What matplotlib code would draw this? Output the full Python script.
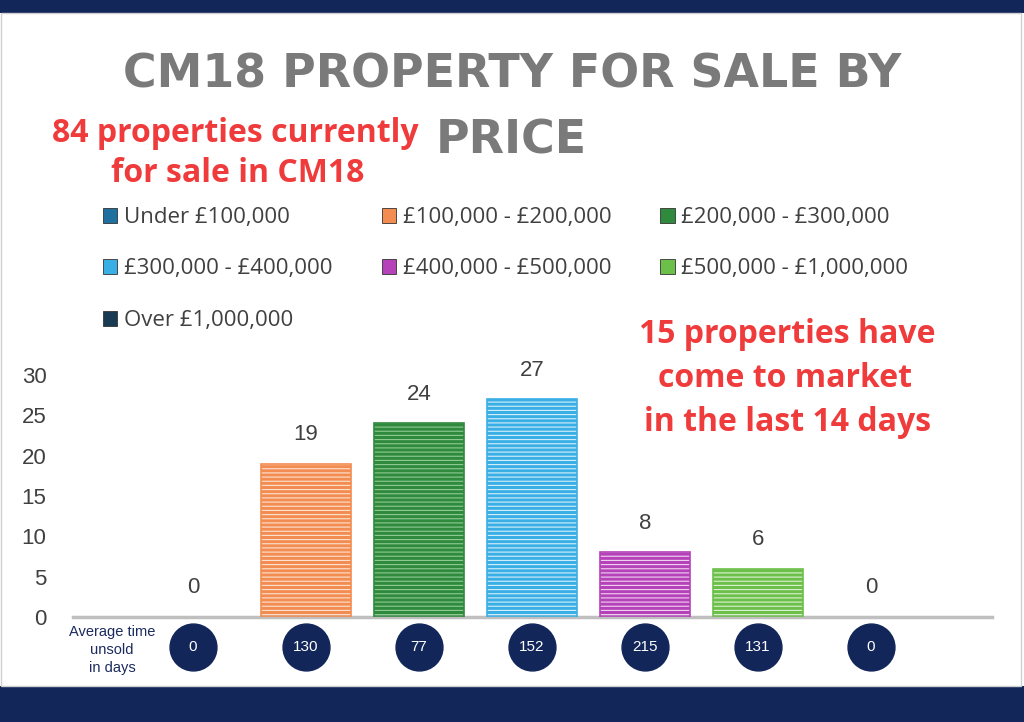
import matplotlib
matplotlib.use("Agg")
import matplotlib.pyplot as plt
from matplotlib import font_manager
from matplotlib.patches import Patch, Rectangle


def pick(*names):
    # first installed family from the list
    for n in names:
        try:
            font_manager.findfont(n, fallback_to_default=False)
            return n
        except ValueError:
            pass
    return "DejaVu Sans"


SANS = pick("Liberation Sans", "DejaVu Sans")
OPEN = pick("Open Sans", "DejaVu Sans")

# data
categories = ["Under £100,000", "£100,000 - £200,000", "£200,000 - £300,000",
              "£300,000 - £400,000", "£400,000 - £500,000", "£500,000 - £1,000,000",
              "Over £1,000,000"]
counts = [0, 19, 24, 27, 8, 6, 0]
days_unsold = [0, 130, 77, 152, 215, 131, 0]
y_ticks = [0, 5, 10, 15, 20, 25, 30]

# styles
colors = ["#1F6F9F", "#F28C50", "#2F8A3E", "#3AAFE5", "#B542B8", "#6CC04A", "#183A52"]
stripes = ["#FFFFFF", "#FDE3D3", "#8FCB93", "#D7EFFB", "#F1D3F2", "#DDF2D2", "#FFFFFF"]
navy = "#13265A"

plt.rcParams["hatch.linewidth"] = 0.8

fig = plt.figure(figsize=(10.24, 7.22), dpi=100)
fig.patch.set_facecolor("white")


def fx(px):
    return px / 1024


def fy(py):
    return 1 - py / 722


# frame bands
fig.patches.append(Rectangle((0, fy(13)), 1, 13 / 722, transform=fig.transFigure,
                             facecolor=navy, edgecolor="none", zorder=0))
fig.patches.append(Rectangle((0, 0), 1, fy(686), transform=fig.transFigure,
                             facecolor=navy, edgecolor="none", zorder=0))
fig.patches.append(Rectangle((fx(1), fy(686)), fx(1020), (686 - 13) / 722,
                             transform=fig.transFigure, facecolor="none",
                             edgecolor="#D0D0D0", linewidth=1, zorder=0))

ax = fig.add_axes([fx(73), fy(617), fx(992 - 73), (617 - 375) / 722])
ax.set_xlim(-1.062, 7.071)
ax.set_ylim(0, 30)

x = list(range(len(categories)))
ax.bar(x, counts, width=0.805, color=colors, edgecolor=stripes,
       linewidth=0, hatch="----", zorder=2)
outline = [c if n > 0 else "none" for c, n in zip(colors, counts)]
ax.bar(x, counts, width=0.805, fill=False, edgecolor=outline, linewidth=1.2, zorder=3)

for xi, c in zip(x, counts):
    ax.annotate(str(c), (xi, c), xytext=(0, 21), textcoords="offset points",
                ha="center", va="center", fontsize=16, color="#404040", family=SANS)

for s in ["top", "right", "left"]:
    ax.spines[s].set_visible(False)
ax.spines["bottom"].set_color("#BFBFBF")
ax.spines["bottom"].set_linewidth(2.5)
ax.set_xticks([])
ax.set_yticks(y_ticks)
ax.tick_params(axis="y", length=0, pad=19, labelsize=16, labelcolor="#404040")
for lab in ax.get_yticklabels():
    lab.set_family(SANS)

# days unsold circles
circ_y = -3.72
ax.scatter(x, [circ_y] * len(x), s=1140, color=navy, clip_on=False, zorder=4)
for xi, d in zip(x, days_unsold):
    ax.text(xi, circ_y, str(d), ha="center", va="center", color="white",
            fontsize=11, family=SANS, zorder=5, clip_on=False)
ax.text(-0.717, -4.09, "Average time\nunsold\nin days", ha="center", va="center",
        fontsize=10.5, color="#1B2B5E", family=SANS, linespacing=1.35, clip_on=False)

# legend, filled column by column
order = [0, 3, 6, 1, 4, 2, 5]
handles = [Patch(facecolor=colors[i], edgecolor="#333333", linewidth=0.6,
                 label=categories[i]) for i in order]
leg = fig.legend(handles=handles, loc="upper left", ncol=3, frameon=False,
                 bbox_to_anchor=(fx(103), fy(207)), borderpad=0, borderaxespad=0,
                 handlelength=0.65, handleheight=0.65, handletextpad=0.3,
                 columnspacing=2.2, labelspacing=1.37,
                 prop={"family": OPEN, "size": 16})
for t in leg.get_texts():
    t.set_color("#404040")

# title
fig.text(fx(512), fy(87), "CM18 PROPERTY FOR SALE BY", ha="center", va="baseline",
         fontsize=33, fontweight="bold", color="#7A7A7A", family="DejaVu Sans")
fig.text(fx(511), fy(153), "PRICE", ha="center", va="baseline",
         fontsize=33, fontweight="bold", color="#7A7A7A", family="DejaVu Sans")

red = "#EF3B3B"
fig.text(fx(235), fy(142), "84 properties currently", ha="center", va="baseline",
         fontsize=23, fontweight="bold", color=red, family=OPEN)
fig.text(fx(238), fy(182), "for sale in CM18", ha="center", va="baseline",
         fontsize=23, fontweight="bold", color=red, family=OPEN)
for px, py, s in [(787, 343, "15 properties have"), (785, 387, "come to market"),
                  (788, 431, "in the last 14 days")]:
    fig.text(fx(px), fy(py), s, ha="center", va="baseline",
             fontsize=23, fontweight="bold", color=red, family=OPEN)

fig.savefig("out.png", dpi=100)
